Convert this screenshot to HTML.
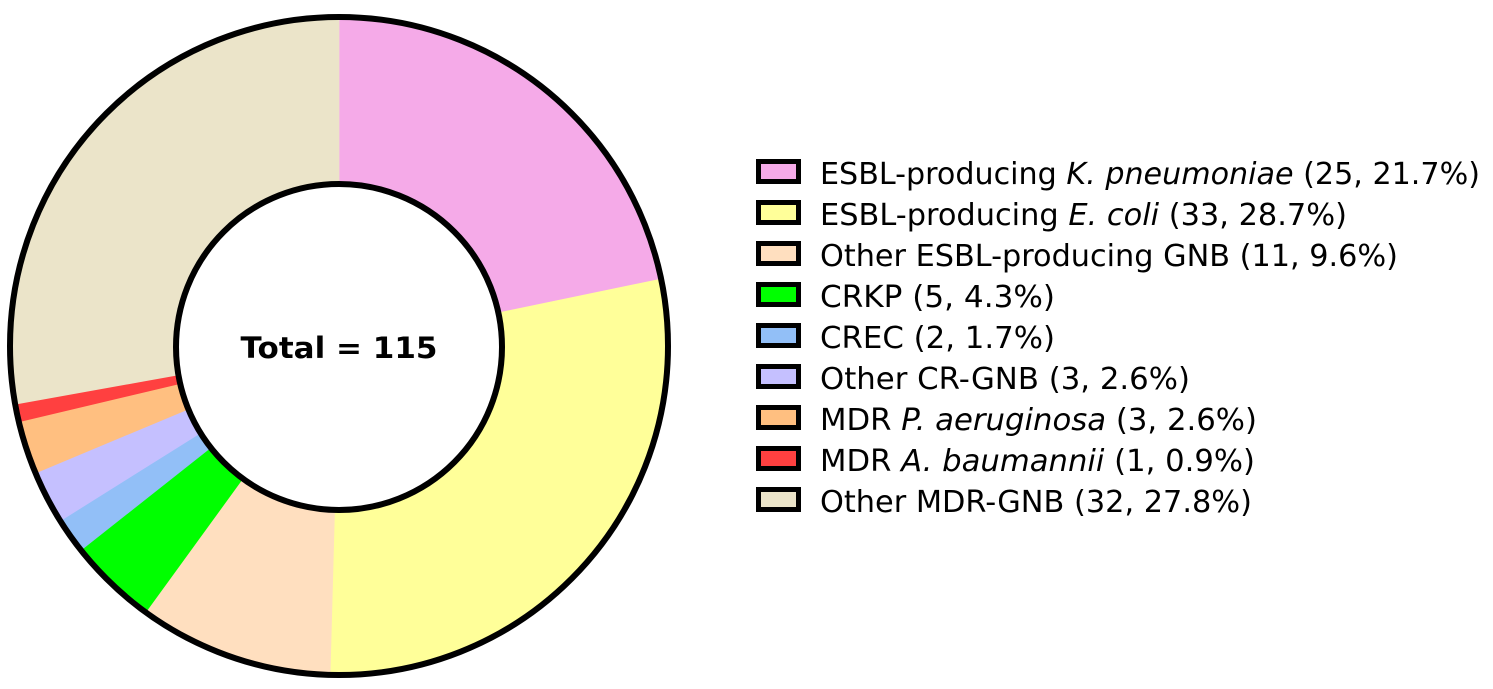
<!DOCTYPE html>
<html><head><meta charset="utf-8"><style>
body{margin:0;background:#fff;}
svg{display:block;font-family:"DejaVu Sans",Verdana,"Liberation Sans",sans-serif;}
</style></head><body>
<svg id="s" width="1493" height="689" xmlns="http://www.w3.org/2000/svg">
<g id="slices"></g>
<circle cx="339" cy="346" r="329" fill="none" stroke="#000" stroke-width="6"/>
<circle cx="339" cy="347" r="163" fill="#fff" stroke="#000" stroke-width="6"/>
<text x="339" y="358" text-anchor="middle" font-size="29" font-weight="bold" textLength="197" lengthAdjust="spacingAndGlyphs">Total = 115</text>
<g font-size="30" fill="#000">
<text x="820" y="184" textLength="660" lengthAdjust="spacingAndGlyphs">ESBL-producing <tspan font-style="italic">K. pneumoniae</tspan> (25, 21.7%)</text>
<text x="820" y="225" textLength="527" lengthAdjust="spacingAndGlyphs">ESBL-producing <tspan font-style="italic">E. coli</tspan> (33, 28.7%)</text>
<text x="820" y="266" textLength="578" lengthAdjust="spacingAndGlyphs">Other ESBL-producing GNB (11, 9.6%)</text>
<text x="820" y="307" textLength="235" lengthAdjust="spacingAndGlyphs">CRKP (5, 4.3%)</text>
<text x="820" y="348" textLength="235" lengthAdjust="spacingAndGlyphs">CREC (2, 1.7%)</text>
<text x="820" y="389" textLength="370" lengthAdjust="spacingAndGlyphs">Other CR-GNB (3, 2.6%)</text>
<text x="820" y="430" textLength="437" lengthAdjust="spacingAndGlyphs">MDR <tspan font-style="italic">P. aeruginosa</tspan> (3, 2.6%)</text>
<text x="820" y="471" textLength="435" lengthAdjust="spacingAndGlyphs">MDR <tspan font-style="italic">A. baumannii</tspan> (1, 0.9%)</text>
<text x="820" y="512" textLength="432" lengthAdjust="spacingAndGlyphs">Other MDR-GNB (32, 27.8%)</text>
</g>
<g id="leg" stroke="#000" stroke-width="5"></g>
</svg>
<script>
var vals=[25,33,11,5,2,3,3,1,32];
var cols=["#F5AAE8","#FFFF99","#FFDFBF","#00FF00","#92BFF7","#C5C0FF","#FFBF80","#FF4040","#EBE4C9"];
var cx=339,cy=346,R=329,r=163,tot=115,a=0,g=document.getElementById("slices"),L=document.getElementById("leg");
function pt(rad,ang){return [cx+rad*Math.sin(ang),cy-rad*Math.cos(ang)];}
for(var i=0;i<vals.length;i++){
 var a2=a+vals[i]/tot*2*Math.PI,lg=(a2-a)>Math.PI?1:0;
 var p1=pt(R,a),p2=pt(R,a2),p3=pt(r,a2),p4=pt(r,a);
 var d="M"+p1+" A"+R+","+R+" 0 "+lg+" 1 "+p2+" L"+p3+" A"+r+","+r+" 0 "+lg+" 0 "+p4+"Z";
 var p=document.createElementNS("http://www.w3.org/2000/svg","path");
 p.setAttribute("d",d);p.setAttribute("fill",cols[i]);p.setAttribute("stroke",cols[i]);p.setAttribute("stroke-width","0.8");g.appendChild(p);
 var rc=document.createElementNS("http://www.w3.org/2000/svg","rect");
 rc.setAttribute("x",758.5);rc.setAttribute("y",161.5+41*i);rc.setAttribute("width",40);rc.setAttribute("height",20);rc.setAttribute("fill",cols[i]);L.appendChild(rc);
 a=a2;
}
</script>
</body></html>
